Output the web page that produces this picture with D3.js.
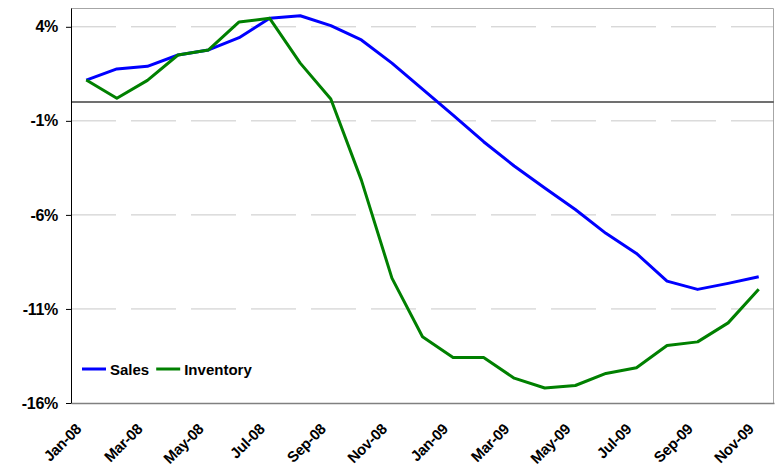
<!DOCTYPE html>
<html lang="en">
<head>
    <meta charset="UTF-8">
    <title>Sales vs Inventory</title>
    <style>
        html, body {
            margin: 0px;
            padding: 0px;
            background-color: white;
            font-family: 'Liberation Sans', Arial, sans-serif;
        }
        #vis {
            width: 779px;
            height: 469px;
        }
        .axis text {
            font-weight: bold;
            fill: #000;
        }
        .legend text {
            font-size: 15px;
            font-weight: bold;
        }
    </style>
</head>
<body>
    <div id="vis"></div>
    <script src="https://d3js.org/d3.v7.min.js"></script>
    <script>

        // months on the category axis
        var months = ["Jan-08", "Feb-08", "Mar-08", "Apr-08", "May-08", "Jun-08",
                      "Jul-08", "Aug-08", "Sep-08", "Oct-08", "Nov-08", "Dec-08",
                      "Jan-09", "Feb-09", "Mar-09", "Apr-09", "May-09", "Jun-09",
                      "Jul-09", "Aug-09", "Sep-09", "Oct-09", "Nov-09"];

        // year over year change, percent
        var sales = [1.17, 1.76, 1.9, 2.5, 2.77, 3.42, 4.45, 4.59, 4.06, 3.3, 2.07, 0.69,
                     -0.69, -2.11, -3.4, -4.57, -5.71, -6.98, -8.05, -9.52, -9.96, -9.64, -9.29];
        var inventory = [1.17, 0.2, 1.15, 2.5, 2.77, 4.26, 4.45, 2.07, 0.16, -4.15, -9.36, -12.48,
                         -13.58, -13.58, -14.68, -15.2, -15.07, -14.43, -14.13, -12.94, -12.75, -11.74, -9.95];

        var seriesNames = ["Sales", "Inventory"];
        var seriesColors = ["#0000ff", "#008000"];

        var yTicks = [4, -1, -6, -11, -16];
        var xLabels = ["Jan-08", "Mar-08", "May-08", "Jul-08", "Sep-08", "Nov-08",
                       "Jan-09", "Mar-09", "May-09", "Jul-09", "Sep-09", "Nov-09"];

        var width = 779;
        var height = 469;
        var margin = {top: 8, right: 5, bottom: 66, left: 71};

        var svg = d3.select("#vis")
            .append("svg")
            .attr("width", width)
            .attr("height", height);

        var x_scale = d3.scaleBand()
            .domain(months)
            .range([margin.left, width - margin.right]);

        var y_scale = d3.scaleLinear()
            .domain([-16, 5])
            .range([height - margin.bottom, margin.top]);

        // dashed grid lines
        svg.append("g")
            .selectAll("line")
            .data(yTicks.filter(function(d){ return d > -16; }))
            .enter()
            .append("line")
            .attr("x1", margin.left)
            .attr("x2", width - margin.right)
            .attr("y1", function(d){ return y_scale(d); })
            .attr("y2", function(d){ return y_scale(d); })
            .attr("stroke", "#c8c8c8")
            .attr("stroke-width", 1)
            .attr("stroke-dasharray", "45,15");

        // frame top and right
        svg.append("path")
            .attr("d", "M" + margin.left + "," + (margin.top + 0.5) +
                       "H" + (width - margin.right - 0.5) +
                       "V" + (height - margin.bottom))
            .attr("fill", "none")
            .attr("stroke", "#a6a6a6")
            .attr("stroke-width", 1);

        // zero line
        svg.append("line")
            .attr("x1", margin.left)
            .attr("x2", width - margin.right)
            .attr("y1", y_scale(0))
            .attr("y2", y_scale(0))
            .attr("stroke", "#707070")
            .attr("stroke-width", 2);

        // x axis
        var x_axis = d3.axisBottom(x_scale)
            .tickValues(xLabels)
            .tickSize(0)
            .tickSizeOuter(0);

        var gx = svg.append("g")
            .attr("class", "x axis")
            .attr("transform", "translate(0," + (height - margin.bottom) + ")")
            .call(x_axis);

        gx.select(".domain")
            .attr("stroke", "#808080")
            .attr("stroke-width", 1.5);

        gx.selectAll(".tick text")
            .attr("font-size", 15)
            .attr("font-family", "'Liberation Sans', Arial, sans-serif")
            .attr("letter-spacing", "-0.3px")
            .attr("text-anchor", "end")
            .attr("x", 0)
            .attr("y", 0)
            .attr("dy", 0)
            .attr("transform", "translate(-4,27) rotate(-45)");

        // y axis
        var y_axis = d3.axisLeft(y_scale)
            .tickValues(yTicks)
            .tickSize(5)
            .tickSizeOuter(0)
            .tickPadding(8)
            .tickFormat(function(d){ return d + "%"; });

        var gy = svg.append("g")
            .attr("class", "y axis")
            .attr("transform", "translate(" + margin.left + ",0)")
            .call(y_axis);

        gy.select(".domain").attr("stroke", "#000");
        gy.selectAll(".tick line").attr("stroke", "#000");
        gy.selectAll(".tick text")
            .attr("font-size", 16)
            .attr("letter-spacing", "-0.3px")
            .attr("font-family", "'Liberation Sans', Arial, sans-serif");

        // lines
        var line = d3.line()
            .x(function(d, i){ return x_scale(months[i]) + x_scale.bandwidth() / 2; })
            .y(function(d){ return y_scale(d); });

        [sales, inventory].forEach(function(values, k){
            svg.append("path")
                .datum(values)
                .attr("fill", "none")
                .attr("stroke", seriesColors[k])
                .attr("stroke-width", 3)
                .attr("stroke-linejoin", "round")
                .attr("d", line);
        });

        // legend
        var legend = svg.append("g")
            .attr("class", "legend")
            .attr("transform", "translate(82,369)");

        var lx = 0;
        seriesNames.forEach(function(name, k){
            legend.append("line")
                .attr("x1", lx)
                .attr("x2", lx + 24)
                .attr("y1", 0)
                .attr("y2", 0)
                .attr("stroke", seriesColors[k])
                .attr("stroke-width", 3);
            var t = legend.append("text")
                .attr("x", lx + 28)
                .attr("y", 5.5)
                .attr("fill", "#000")
                .text(name);
            lx += 28 + t.node().getComputedTextLength() + 7;
        });

    </script>
</body>
</html>
